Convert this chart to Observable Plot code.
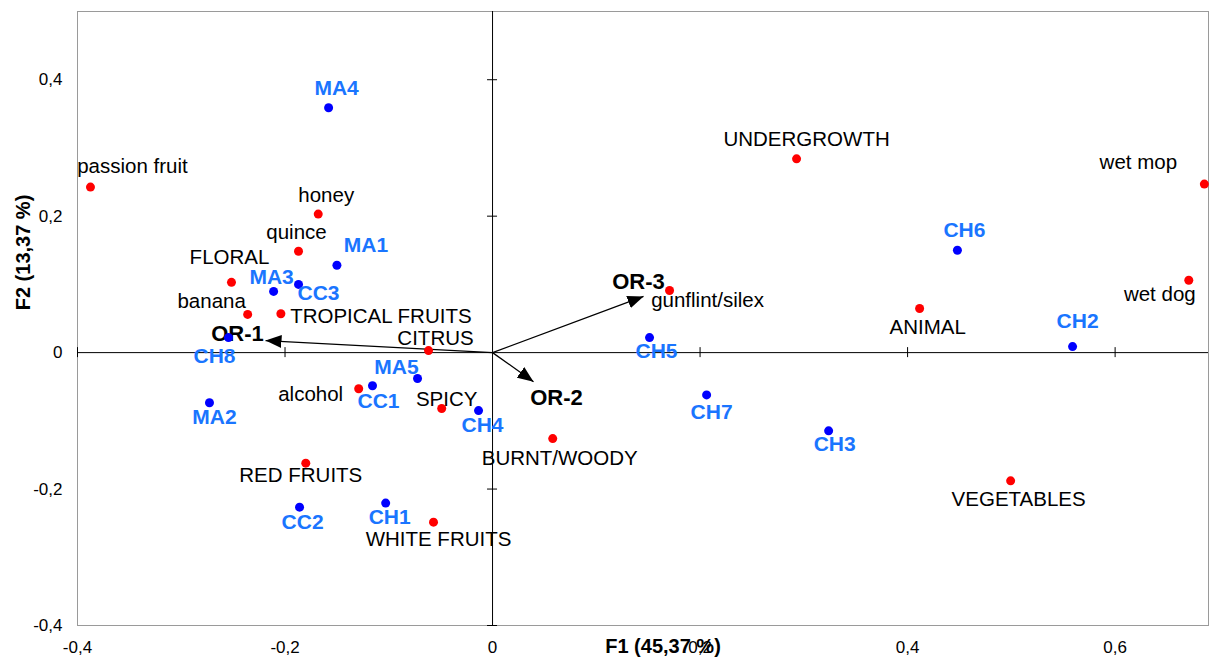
<!DOCTYPE html>
<html>
<head>
<meta charset="utf-8">
<script src="https://cdn.jsdelivr.net/npm/d3@7"></script>
<script src="https://cdn.jsdelivr.net/npm/@observablehq/plot@0.6"></script>
<style>
  html, body { margin: 0; padding: 0; background: #fff; }
  #chart svg { display: block; font-family: "Liberation Sans", Arial, sans-serif; }
</style>
</head>
<body>
<div id="chart"></div>
<script>
// ---- Data ----
const attrNames = ["passion fruit","honey","quince","FLORAL","banana","TROPICAL FRUITS","CITRUS","alcohol","SPICY","BURNT/WOODY","RED FRUITS","WHITE FRUITS","UNDERGROWTH","wet mop","wet dog","ANIMAL","VEGETABLES","gunflint/silex"];
const attrF1 = [-0.3875,-0.168,-0.187,-0.2516,-0.236,-0.204,-0.0617,-0.129,-0.049,0.058,-0.180,-0.0569,0.293,0.686,0.671,0.4116,0.4993,0.1706];
const attrF2 = [0.2426,0.203,0.1485,0.103,0.056,0.057,0.003,-0.053,-0.082,-0.126,-0.162,-0.2485,0.284,0.247,0.106,0.0647,-0.188,0.091];

const sampleNames = ["MA4","MA1","MA3","CC3","CH8","MA5","CC1","MA2","CH4","CC2","CH1","CH5","CH7","CH3","CH6","CH2"];
const sampleF1 = [-0.158,-0.150,-0.211,-0.187,-0.2545,-0.0723,-0.1157,-0.2728,-0.0135,-0.186,-0.103,0.1513,0.2063,0.3239,0.448,0.559];
const sampleF2 = [0.359,0.128,0.0897,0.10,0.022,-0.038,-0.0485,-0.0735,-0.085,-0.2265,-0.2206,0.022,-0.062,-0.1147,0.150,0.0088];

const vecNames = ["OR-1","OR-2","OR-3"];
const vecF1 = [-0.2188,0.0395,0.1455];
const vecF2 = [0.0176,-0.0426,0.0824];

const xTicks = [-0.4,-0.2,0,0.2,0.4,0.6];
const yTicks = [-0.4,-0.2,0,0.2,0.4];
const xTitle = "F1 (45,37 %)";
const yTitle = "F2 (13,37 %)";

// label placement offsets (pixels), kept apart from the data
const attrLabelDx = [42,8,-2,-2,-36,100,7,-48,5,7,-5,5,10,-66,-29,8,8,38];
const attrLabelDy = [-21,-19,-19,-25,-13,3,-12,6,-9,20,12,17,-19,-22,14,19,19,10];
const sampleLabelDx = [8,29,-2,20,-14,-21,6,5,4,3,4,7,5,6,7,5];
const sampleLabelDy = [-19,-20,-14,9,19,-11,16,15,15,15,14,14,17,13,-20,-25];
const vecLabelDx = [-28,23,-5];
const vecLabelDy = [-7,16,-14];

// ---- Tables ----
const attrs = attrNames.map((n,i)=>({name:n, x:attrF1[i], y:attrF2[i], dx:attrLabelDx[i], dy:attrLabelDy[i]}));
const samples = sampleNames.map((n,i)=>({name:n, x:sampleF1[i], y:sampleF2[i], dx:sampleLabelDx[i], dy:sampleLabelDy[i]}));
const vecs = vecNames.map((n,i)=>({name:n, x:vecF1[i], y:vecF2[i], dx:vecLabelDx[i], dy:vecLabelDy[i]}));

const fmt = d => String(d).replace(".", ",");

// filled arrowhead marker
function filledArrow(color, context) {
  const doc = context.document;
  const m = doc.createElementNS("http://www.w3.org/2000/svg", "marker");
  m.setAttribute("viewBox", "-16 -7 16 14");
  m.setAttribute("markerWidth", 16);
  m.setAttribute("markerHeight", 14);
  m.setAttribute("markerUnits", "userSpaceOnUse");
  m.setAttribute("refX", 0);
  m.setAttribute("refY", 0);
  m.setAttribute("orient", "auto");
  const p = doc.createElementNS("http://www.w3.org/2000/svg", "path");
  p.setAttribute("d", "M0,0L-16,-6.5L-16,6.5Z");
  p.setAttribute("fill", "#000");
  p.setAttribute("stroke", "none");
  m.appendChild(p);
  return m;
}

function labelMarks(data, opts) {
  return data.map(d => Plot.text([d], {x: "x", y: "y", text: "name", dx: d.dx, dy: d.dy, ...opts}));
}

const blue = "#1a75ff";

const chart = Plot.plot({
  width: 1209,
  height: 657,
  marginLeft: 77,
  marginRight: 1,
  marginTop: 11,
  marginBottom: 32,
  style: {fontFamily: "'Liberation Sans', Arial, sans-serif", background: "#fff"},
  x: {domain: [-0.4, 0.69], ticks: xTicks, tickFormat: fmt, tickSize: 0, label: null},
  y: {domain: [-0.4, 0.5], ticks: yTicks, tickFormat: fmt, tickSize: 0, label: null},
  marks: [
    Plot.frame({stroke: "#9a9a9a", strokeWidth: 1}),
    Plot.ruleX([0], {stroke: "#000", strokeWidth: 1}),
    Plot.ruleY([0], {stroke: "#000", strokeWidth: 1}),
    // tick marks on the crossing axes
    Plot.ruleX(xTicks.filter(v => v !== 0), {x: d => d, y1: 0, y2: 0, insetTop: -5, insetBottom: -5, stroke: "#000"}),
    Plot.ruleY(yTicks.filter(v => v !== 0), {y: d => d, x1: 0, x2: 0, insetLeft: -5, insetRight: -5, stroke: "#000"}),
    // vectors
    Plot.link(vecs, {x1: 0, y1: 0, x2: "x", y2: "y", stroke: "#000", strokeWidth: 1.3, markerEnd: filledArrow}),
    ...labelMarks(vecs, {fill: "#000", fontWeight: "bold", fontSize: 22}),
    // points
    Plot.dot(attrs, {x: "x", y: "y", r: 4.5, fill: "#ff0000", stroke: "none"}),
    Plot.dot(samples, {x: "x", y: "y", r: 4.5, fill: "#0000ff", stroke: "none"}),
    ...labelMarks(attrs, {fill: "#000", fontSize: 20.5}),
    ...labelMarks(samples, {fill: blue, fontWeight: "bold", fontSize: 21}),
    // axis titles
    Plot.text([xTitle], {frameAnchor: "bottom", text: d => d, textAnchor: "middle", lineAnchor: "middle", dx: 20, dy: 21, fontWeight: "bold", fontSize: 20, fill: "#000"}),
    Plot.text([yTitle], {frameAnchor: "left", text: d => d, textAnchor: "middle", lineAnchor: "middle", rotate: -90, dx: -54, dy: -66, fontWeight: "bold", fontSize: 20, fill: "#000"}),
    Plot.axisX({ticks: xTicks, tickFormat: fmt, tickSize: 0, tickPadding: 15, fontSize: 17, fill: "#000"}),
    Plot.axisY({ticks: yTicks, tickFormat: fmt, tickSize: 0, tickPadding: 15, fontSize: 17, fill: "#000"})
  ]
});
document.getElementById("chart").appendChild(chart);
</script>
</body>
</html>
